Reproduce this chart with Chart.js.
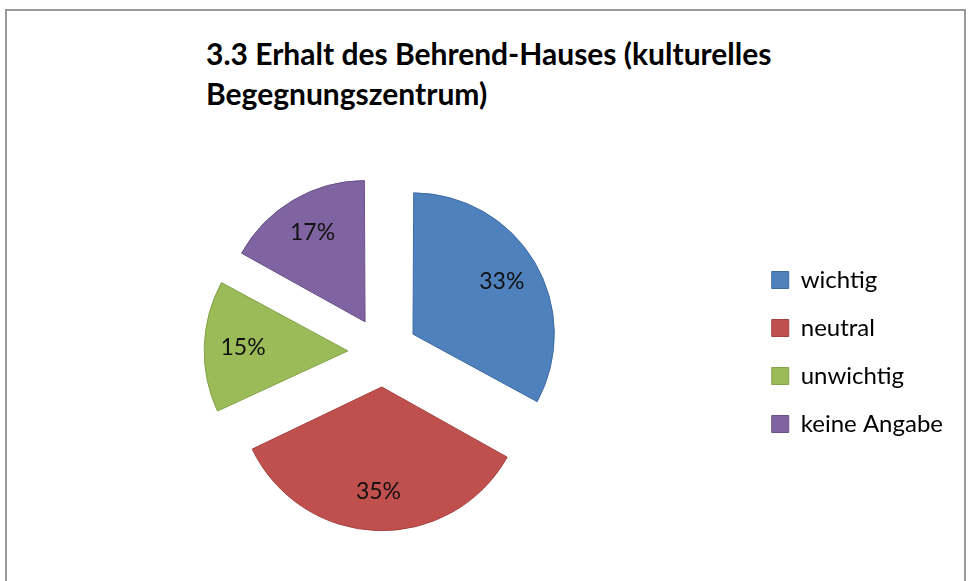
<!DOCTYPE html>
<html>
<head>
<meta charset="utf-8">
<script src="https://cdn.jsdelivr.net/npm/chart.js@4.4.1/dist/chart.umd.min.js"></script>
<style>
  html, body { margin: 0; padding: 0; background: #fff; }
  #wrap { position: relative; width: 968px; height: 581px; overflow: hidden; }
  #frame {
    position: absolute; left: 5px; top: 9px; width: 957px; height: 620px;
    border: 2px solid #999; border-bottom: none;
  }
  #title {
    position: absolute; left: 206px; top: 33px;
    font: bold 30px Lato, "Open Sans", sans-serif; line-height: 40px; color: #000;
  }
  #chart { position: absolute; left: 0; top: 0; }
</style>
</head>
<body>
<div id="wrap">
  <div id="frame"></div>
  <div id="title">3.3 Erhalt des Behrend-Hauses (kulturelles<br>Begegnungszentrum)</div>
  <canvas id="chart" width="968" height="581"></canvas>
</div>
<script>
// --- data ---
const categories = ['wichtig', 'neutral', 'unwichtig', 'keine Angabe'];
const shares     = [33, 35, 15, 17];   // Prozent
const colors     = ['#4F81BD', '#C0504D', '#9BBB59', '#8064A2'];
const borders    = ['#3F6CA3', '#A5413E', '#84A24A', '#6A528A'];

// Prozentwerte in die (explodierten) Segmente schreiben
const sliceLabels = {
  id: 'sliceLabels',
  afterDatasetsDraw(chart) {
    const { ctx } = chart;
    const meta = chart.getDatasetMeta(0);
    const data = chart.data.datasets[0].data;
    const total = data.reduce((a, b) => a + b, 0);
    ctx.save();
    ctx.font = '23px Lato, "Open Sans", sans-serif';
    ctx.fillStyle = '#111';
    ctx.textAlign = 'center';
    ctx.textBaseline = 'middle';
    meta.data.forEach((arc, i) => {
      const { x, y, startAngle, endAngle, outerRadius } = arc.getProps(['x', 'y', 'startAngle', 'endAngle', 'outerRadius'], true);
      const half = (startAngle + endAngle) / 2;
      const circ = endAngle - startAngle;
      // gleiche Verschiebung wie ArcElement.draw
      const off = (arc.options.offset || 0) / 4;
      const fix = 1 - Math.sin(Math.min(Math.PI, circ));
      const r = off + (outerRadius + off * fix) * 0.73;
      ctx.fillText(Math.round(data[i] / total * 100) + '%', x + Math.cos(half) * r, y + Math.sin(half) * r);
    });
    ctx.restore();
  }
};

new Chart(document.getElementById('chart'), {
  type: 'pie',
  data: {
    labels: categories,
    datasets: [{
      data: shares,
      backgroundColor: colors,
      borderColor: borders,
      borderWidth: 1,
      offset: 140
    }]
  },
  options: {
    responsive: false,
    animation: false,
    events: [],
    radius: 137,
    layout: { padding: { left: 18, right: 15, top: 141, bottom: 18 } },
    plugins: {
      title: { display: false },
      tooltip: { enabled: false },
      legend: {
        position: 'right',
        labels: {
          color: '#000',
          boxWidth: 17,
          boxHeight: 17,
          padding: 24,
          font: { family: 'Lato, "Open Sans", sans-serif', size: 24 }
        }
      }
    }
  },
  plugins: [sliceLabels]
});
</script>
</body>
</html>
